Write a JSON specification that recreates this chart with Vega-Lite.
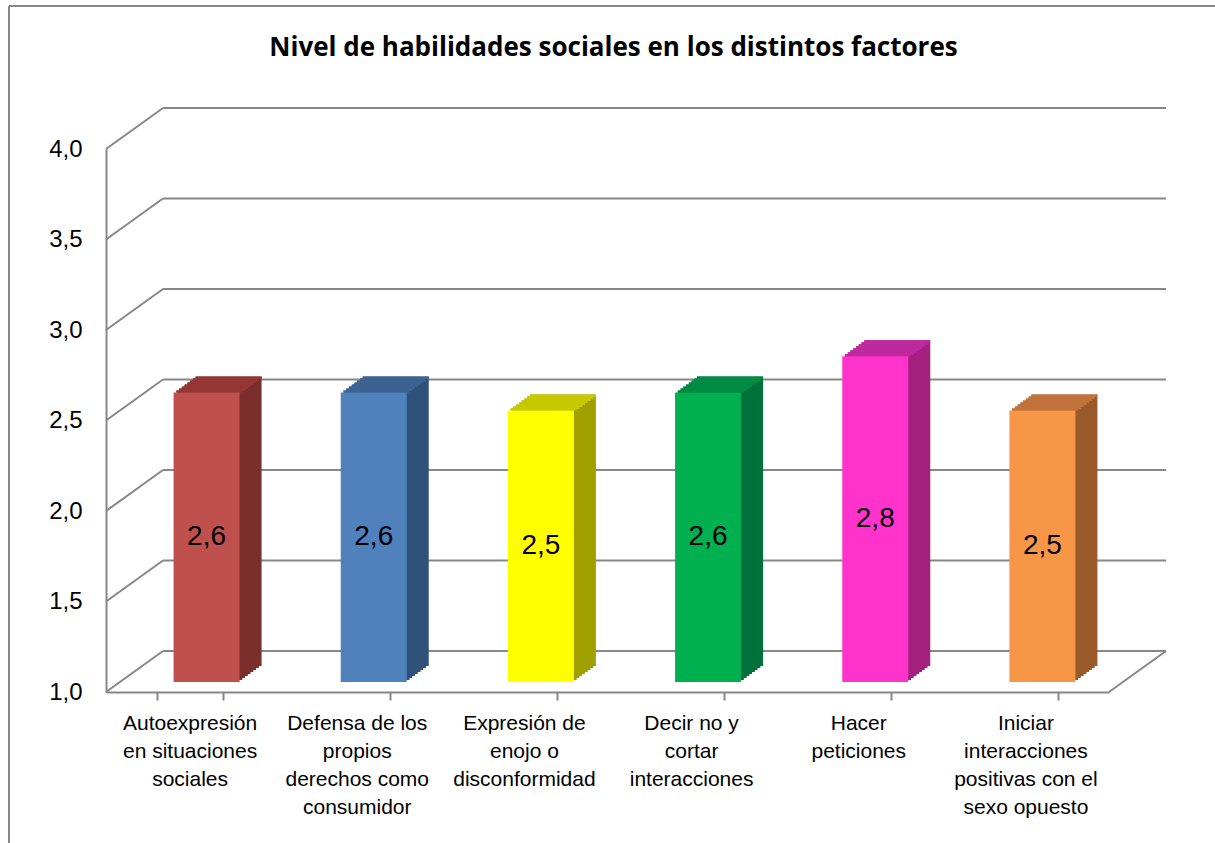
{
  "$schema": "https://vega.github.io/schema/vega-lite/v6.json",
  "width": 1003,
  "height": 543,
  "autosize": "none",
  "padding": {"left": 106, "top": 149, "right": 106, "bottom": 151},
  "background": "#ffffff",
  "title": {
    "text": "Nivel de habilidades sociales en los distintos factores",
    "font": "Open Sans",
    "fontSize": 26,
    "fontWeight": "bold",
    "color": "#000000",
    "anchor": "middle",
    "offset": -56,
    "dx": 6
  },
  "datasets": {
    "grid": [{"v": 1}, {"v": 1.5}, {"v": 2}, {"v": 2.5}, {"v": 3}, {"v": 3.5}, {"v": 4}],
    "bars": [
      {"factor": "Autoexpresión\nen situaciones\nsociales", "valor": 2.6},
      {"factor": "Defensa de los\npropios\nderechos como\nconsumidor", "valor": 2.6},
      {"factor": "Expresión de\nenojo o\ndisconformidad", "valor": 2.5},
      {"factor": "Decir no y\ncortar\ninteracciones", "valor": 2.6},
      {"factor": "Hacer\npeticiones", "valor": 2.8},
      {"factor": "Iniciar\ninteracciones\npositivas con el\nsexo opuesto", "valor": 2.5}
    ]
  },
  "layer": [
    {
      "layer": [
        {
          "data": {"name": "grid"},
          "mark": {"type": "rule", "color": "#878787", "strokeWidth": 2, "xOffset": 57, "x2Offset": 57, "yOffset": -41},
          "encoding": {
            "x": {"datum": 0, "type": "quantitative", "scale": {"domain": [0, 6], "nice": false}, "axis": null},
            "x2": {"datum": 6},
            "y": {"field": "v", "type": "quantitative", "scale": {"domain": [1, 4], "nice": false}, "axis": null}
          }
        },
        {
          "data": {"name": "grid"},
          "mark": {"type": "rule", "color": "#878787", "strokeWidth": 2, "x2Offset": 57, "y2Offset": -41},
          "encoding": {
            "x": {"datum": 0, "type": "quantitative", "scale": {"domain": [0, 6], "nice": false}, "axis": null},
            "x2": {"datum": 0},
            "y": {"field": "v", "type": "quantitative", "scale": {"domain": [1, 4], "nice": false}, "axis": null},
            "y2": {"field": "v"}
          }
        },
        {
          "data": {"values": [{}]},
          "mark": {"type": "rule", "color": "#878787", "strokeWidth": 2, "x2Offset": 57, "y2Offset": -41},
          "encoding": {
            "x": {"datum": 6, "type": "quantitative", "scale": {"domain": [0, 6], "nice": false}, "axis": null},
            "x2": {"datum": 6},
            "y": {"datum": 1, "type": "quantitative", "scale": {"domain": [1, 4], "nice": false}, "axis": null},
            "y2": {"datum": 1}
          }
        },
        {
          "data": {"values": [{}]},
          "mark": {"type": "rule", "color": "#878787", "strokeWidth": 2, "xOffset": -97, "x2Offset": 106, "yOffset": -143},
          "encoding": {
            "x": {"datum": 0, "type": "quantitative", "scale": {"domain": [0, 6], "nice": false}, "axis": null},
            "x2": {"datum": 6},
            "y": {"datum": 4, "type": "quantitative", "scale": {"domain": [1, 4], "nice": false}, "axis": null}
          }
        },
        {
          "data": {"values": [{}]},
          "mark": {"type": "rule", "color": "#878787", "strokeWidth": 2, "xOffset": -97, "yOffset": -143, "y2Offset": 151},
          "encoding": {
            "x": {"datum": 0, "type": "quantitative", "scale": {"domain": [0, 6], "nice": false}, "axis": null},
            "y": {"datum": 4, "type": "quantitative", "scale": {"domain": [1, 4], "nice": false}, "axis": null},
            "y2": {"datum": 1}
          }
        }
      ]
    },
    {
      "data": {"name": "bars"},
      "encoding": {
        "x": {"field": "factor", "type": "nominal", "sort": null, "scale": {"paddingInner": 0.6052, "paddingOuter": 0.3026}, "axis": null},
        "y": {"field": "valor", "type": "quantitative", "scale": {"domain": [1, 4], "nice": false}, "axis": null},
        "y2": {"datum": 1},
        "color": {"field": "factor", "type": "nominal", "sort": null, "legend": null, "scale": {"range": ["#7B2F2D", "#30527A", "#A0A000", "#00713A", "#A3207F", "#9A5A2C"]}}
      },
      "layer": [
        {"mark": {"type": "bar", "xOffset": 39, "yOffset": -26, "y2Offset": -26}},
        {"mark": {"type": "bar", "xOffset": 36.25, "yOffset": -24, "y2Offset": -24}},
        {"mark": {"type": "bar", "xOffset": 33.5, "yOffset": -22, "y2Offset": -22}},
        {"mark": {"type": "bar", "xOffset": 30.75, "yOffset": -20, "y2Offset": -20}},
        {"mark": {"type": "bar", "xOffset": 28, "yOffset": -18, "y2Offset": -18}},
        {"mark": {"type": "bar", "xOffset": 25.25, "yOffset": -16, "y2Offset": -16}},
        {"mark": {"type": "bar", "xOffset": 22.5, "yOffset": -14, "y2Offset": -14}},
        {"mark": {"type": "bar", "xOffset": 19.75, "yOffset": -12, "y2Offset": -12}}
      ]
    },
    {
      "data": {"name": "bars"},
      "encoding": {
        "x": {"field": "factor", "type": "nominal", "sort": null, "scale": {"paddingInner": 0.6052, "paddingOuter": 0.3026}, "axis": null},
        "y": {"field": "valor", "type": "quantitative", "scale": {"domain": [1, 4], "nice": false}, "axis": null},
        "y2": {"field": "valor"},
        "color": {"field": "factor", "type": "nominal", "sort": null, "legend": null, "scale": {"range": ["#933735", "#3C6391", "#C8C800", "#008A42", "#C02AA0", "#C0733A"]}}
      },
      "layer": [
        {"mark": {"type": "bar", "xOffset": 39, "yOffset": -26, "y2Offset": -23.5}},
        {"mark": {"type": "bar", "xOffset": 36.25, "yOffset": -24, "y2Offset": -21.5}},
        {"mark": {"type": "bar", "xOffset": 33.5, "yOffset": -22, "y2Offset": -19.5}},
        {"mark": {"type": "bar", "xOffset": 30.75, "yOffset": -20, "y2Offset": -17.5}},
        {"mark": {"type": "bar", "xOffset": 28, "yOffset": -18, "y2Offset": -15.5}},
        {"mark": {"type": "bar", "xOffset": 25.25, "yOffset": -16, "y2Offset": -13.5}},
        {"mark": {"type": "bar", "xOffset": 22.5, "yOffset": -14, "y2Offset": -11.5}},
        {"mark": {"type": "bar", "xOffset": 19.75, "yOffset": -12, "y2Offset": -10}}
      ]
    },
    {
      "data": {"name": "bars"},
      "mark": {"type": "bar", "xOffset": 17, "yOffset": -10, "y2Offset": -10},
      "encoding": {
        "x": {
          "field": "factor", "type": "nominal", "sort": null,
          "scale": {"paddingInner": 0.6052, "paddingOuter": 0.3026},
          "axis": {
            "title": null,
            "labelExpr": "split(datum.label, '\\n')",
            "labelFont": "Liberation Sans",
            "labelFontSize": 21,
            "labelLineHeight": 28,
            "labelColor": "#000000",
            "labelPadding": 12,
            "labelAngle": 0,
            "labelLimit": 400,
            "labelOverlap": false,
            "tickBand": "extent",
            "tickSize": 8,
            "tickColor": "#878787",
            "tickWidth": 2,
            "domainColor": "#878787",
            "domainWidth": 2,
            "grid": false
          }
        },
        "y": {
          "field": "valor", "type": "quantitative",
          "scale": {"domain": [1, 4], "nice": false},
          "axis": {
            "title": null,
            "values": [1, 1.5, 2, 2.5, 3, 3.5, 4],
            "labelExpr": "replace(format(datum.value, '.1f'), '.', ',')",
            "labelFont": "Liberation Sans",
            "labelFontSize": 24,
            "labelColor": "#000000",
            "labelPadding": 24,
            "ticks": false,
            "tickSize": 0,
            "grid": false,
            "domainColor": "#878787",
            "domainWidth": 2
          }
        },
        "y2": {"datum": 1},
        "color": {"field": "factor", "type": "nominal", "sort": null, "legend": null, "scale": {"range": ["#C0504D", "#4F81BD", "#FFFF00", "#00B050", "#FF33CC", "#F79646"]}}
      }
    },
    {
      "data": {"name": "bars"},
      "mark": {"type": "text", "font": "Liberation Sans", "fontSize": 28, "color": "#000000", "xOffset": 17, "yOffset": -10, "align": "center", "baseline": "middle"},
      "encoding": {
        "x": {"field": "factor", "type": "nominal", "sort": null, "scale": {"paddingInner": 0.6052, "paddingOuter": 0.3026}, "axis": null},
        "y": {"field": "valor", "type": "quantitative", "scale": {"domain": [1, 7], "nice": false}, "axis": null},
        "text": {"field": "valor", "type": "quantitative", "format": ".1f"}
      }
    }
  ],
  "resolve": {"scale": {"x": "independent", "y": "independent", "color": "independent"}},
  "config": {
    "view": {"stroke": null},
    "font": "Liberation Sans",
    "locale": {"number": {"decimal": ",", "thousands": ".", "grouping": [3], "currency": ["", " €"]}}
  }
}
